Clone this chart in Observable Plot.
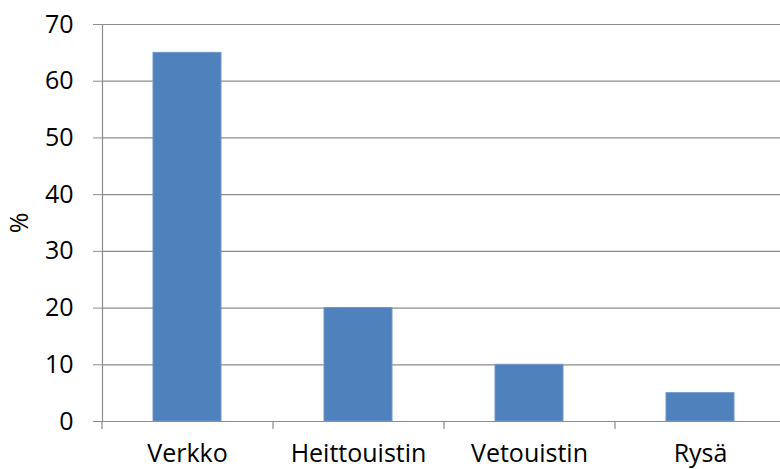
<!DOCTYPE html>
<html>
<head>
<meta charset="utf-8">
<script src="https://cdn.jsdelivr.net/npm/d3@7"></script>
<script src="https://cdn.jsdelivr.net/npm/@observablehq/plot@0.6"></script>
<style>
  html, body { margin: 0; padding: 0; background: #fff; overflow: hidden; }
  #chart { width: 780px; height: 469px; overflow: hidden; }
  #chart svg { max-width: none !important; display: block; }
</style>
</head>
<body>
<div id="chart"></div>
<script>
const categories = ["Verkko", "Heittouistin", "Vetouistin", "Rysä"];
const values = [65, 20, 10, 5];
const yTicks = [0, 10, 20, 30, 40, 50, 60, 70];

const data = categories.map((c, i) => ({category: c, value: values[i]}));

const W = 786, ML = 102, MR = 0;
const step = (W - ML - MR) / categories.length;

const chart = Plot.plot({
  width: W,
  height: 469,
  marginLeft: ML,
  marginRight: MR,
  marginTop: 24,
  marginBottom: 48,
  style: {fontFamily: "'Open Sans', sans-serif", fontSize: "25px", color: "#000", background: "#fff"},
  x: {domain: categories, paddingInner: 0.6, paddingOuter: 0.3},
  y: {domain: [0, 70]},
  marks: [
    Plot.ruleY(yTicks, {stroke: "#8c8c8c", strokeWidth: 1.2, strokeOpacity: 1}),
    Plot.axisY({ticks: yTicks, tickSize: 9, tickPadding: 20, stroke: "#8c8c8c", strokeOpacity: 1, fontSize: 25,
      label: "%", labelAnchor: "center", labelArrow: "none", labelOffset: 92}),
    Plot.axisX({tickSize: 0, tickPadding: 23, fontSize: 25, label: null}),
    Plot.ruleX(categories, {x: d => d, y1: 0, y2: 0, insetBottom: -8, dx: -step / 2, stroke: "#8c8c8c", strokeWidth: 1.2}),
    Plot.barY(data, {x: "category", y: "value", fill: "#4f81bd", stroke: "#7196c9", strokeWidth: 1}),
    Plot.frame({anchor: "left", stroke: "#8c8c8c", strokeWidth: 1.2})
  ]
});
document.getElementById("chart").appendChild(chart);
</script>
</body>
</html>
